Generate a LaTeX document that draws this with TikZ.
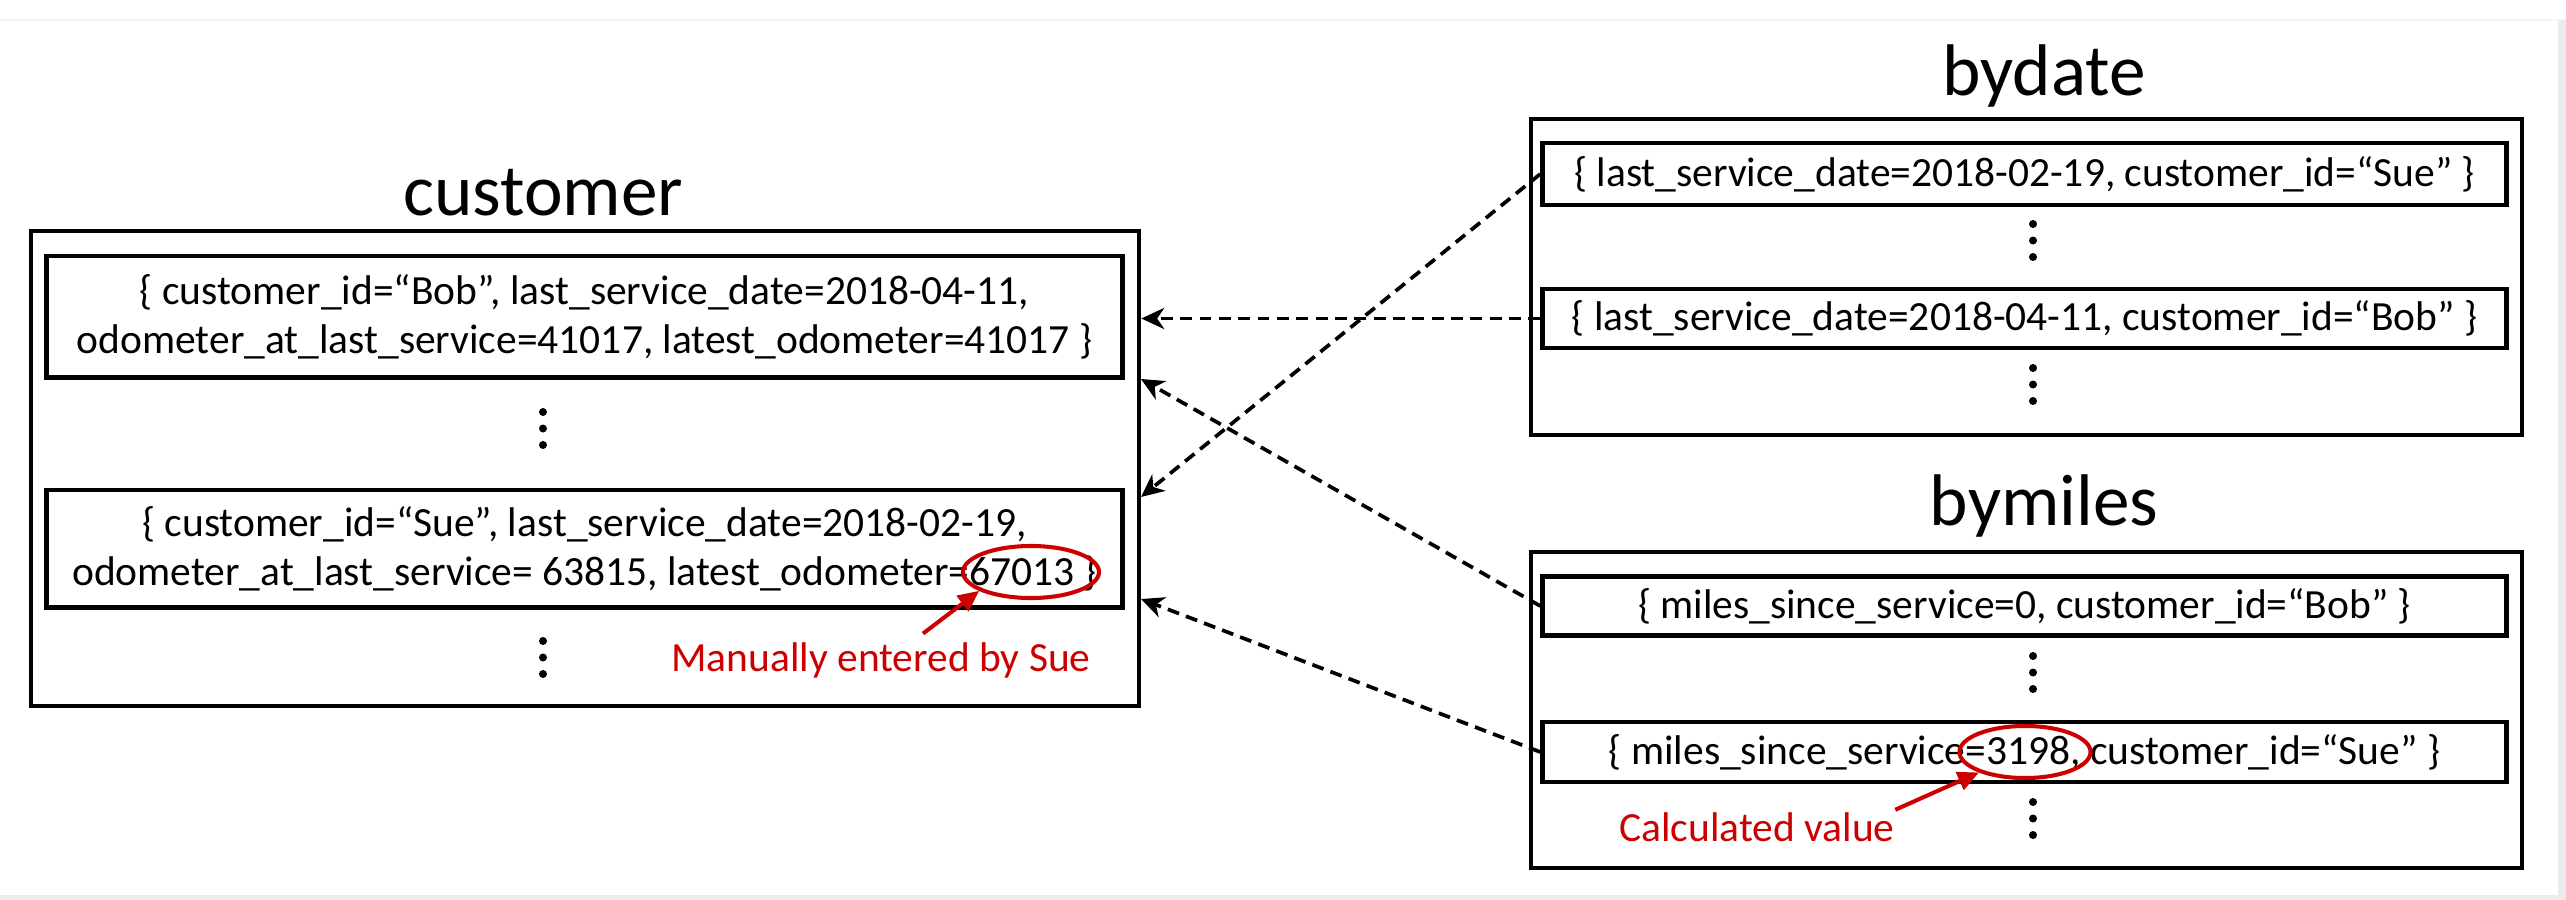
\documentclass[tikz,border=0pt]{standalone}
\usepackage{fontspec}
\setmainfont{Carlito}
\usetikzlibrary{arrows.meta,shapes.geometric}

\definecolor{notered}{RGB}{204,0,0}
\newcommand\rowfont{\fontsize{11.8}{13.9}\selectfont}
\newcommand\titlefont{\fontsize{20.8}{24}\selectfont}

\begin{document}
\begin{tikzpicture}[x=0.01cm,y=-0.01cm,inner sep=0pt,
  table/.style={draw,line width=1.15pt,minimum width=9.91cm},
  rec/.style={draw,line width=1.4pt,align=center,font=\rowfont,minimum width=9.63cm},
  title/.style={anchor=base,font=\titlefont},
  link/.style={line width=1.05pt,dash pattern=on 3.4pt off 2.1pt,-{Stealth[length=6.5pt,width=6pt,inset=2pt]}},
  note/.style={text=notered,font=\rowfont},
  mark ring/.style={draw=notered,line width=1.15pt,ellipse},
  pointer/.style={draw=notered,line width=1.15pt,-{Triangle[length=6pt,width=5.4pt]}},
  rowdots/.style={fill,circle,minimum size=0.08cm}
]
\useasboundingbox (0,0) rectangle (2566,900);
\draw[gray!8,line width=0.3pt] (0,20) -- (2566,20);
\fill[gray!15] (2558,20) rectangle (2566,900);
\fill[gray!15] (0,895) rectangle (2566,900);

% customer table
\node[title] (tcust) at (543,215) {customer};
\node[table,minimum width=11.08cm,minimum height=4.75cm] (cust) at (585,468.5) {};
\node[rec,minimum width=10.75cm,minimum height=1.21cm] (cbob) at (584.5,316.5)
  {\{ customer\_id=“Bob”, last\_service\_date=2018-04-11,\\
   odometer\_at\_last\_service=41017, latest\_odometer=41017 \}};
\node[rec,minimum width=10.75cm,minimum height=1.17cm] (csue) at (584.5,548.5)
  {\{ customer\_id=“Sue”, last\_service\_date=2018-02-19,\\
   odometer\_at\_last\_service= 63815, latest\_odometer=67013 \}};
\foreach \y in {412,428.5,445,641,657.5,674}
  \node[rowdots] at (543,\y) {};

% bydate table
\node[title] (tdate) at (2044,95) {bydate};
\node[table,minimum height=3.16cm] (bydate) at (2026.5,277) {};
\node[rec,minimum height=0.62cm] (dsue) at (2024.5,174)
  {\{ last\_service\_date=2018-02-19, customer\_id=“Sue” \}};
\node[rec,minimum height=0.59cm] (dbob) at (2024.5,318.5)
  {\{ last\_service\_date=2018-04-11, customer\_id=“Bob” \}};

% bymiles table
\node[title] (tmiles) at (2044,525) {bymiles};
\node[table,minimum height=3.165cm] (bymiles) at (2026.5,710) {};
\node[rec,minimum height=0.585cm] (mbob) at (2024.5,606)
  {\{ miles\_since\_service=0, customer\_id=“Bob” \}};
\node[rec,minimum height=0.6cm] (msue) at (2024.5,752)
  {\{ miles\_since\_service=3198, customer\_id=“Sue” \}};
\foreach \y in {224,240.5,257,368,384.5,401,656,672.5,689,802,818.5,835}
  \node[rowdots] at (2033,\y) {};

% index entries point back to customer rows
\coordinate (insue) at (1141,497);
\coordinate (inbob) at (1141,379);
\coordinate (inlast) at (1141,599);
\draw[link] (dbob.west) -- (cust.east |- dbob.west);
\draw[link] (dsue.west) -- (insue);
\draw[link] (mbob.west) -- (inbob);
\draw[link] (msue.west) -- (inlast);

% notes
\node[mark ring,minimum width=1.36cm,minimum height=0.52cm] (ring1) at (1031,572) {};
\node[mark ring,minimum width=1.31cm,minimum height=0.52cm] (ring2) at (2025,752) {};
\node[note] (note1) at (881,660) {Manually entered by Sue};
\node[note] (note2) at (1757,827) {Calculated value};
\draw[pointer] ([xshift=0.42cm,yshift=0.08cm]note1.north) -- (ring1.200);
\draw[pointer] ([yshift=0.02cm]note2.north east) -- (ring2.204);
\end{tikzpicture}
\end{document}
